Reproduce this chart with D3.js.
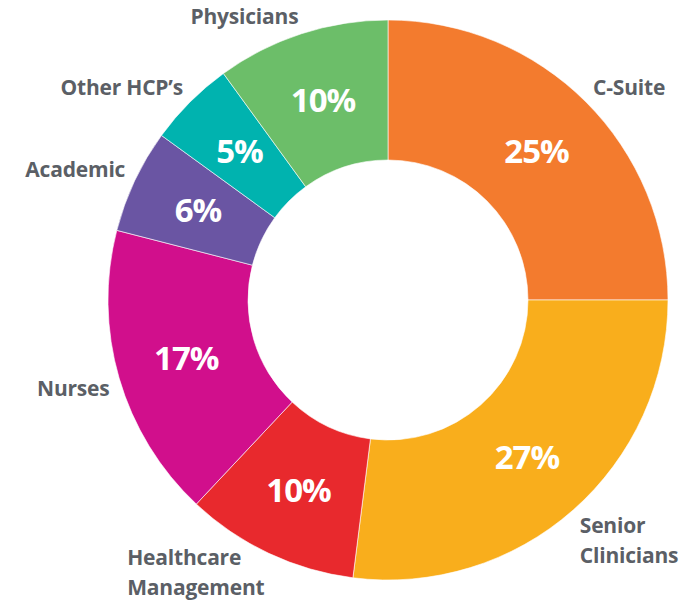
<!DOCTYPE html>
<html>
<head>
<meta charset="utf-8">
<script src="https://cdn.jsdelivr.net/npm/d3@7"></script>
<style>
  body { margin: 0; background: #fff; }
  svg { display: block; }
</style>
</head>
<body>
<svg id="chart" width="687" height="603"></svg>
<script>
// Survey respondents by role (clockwise from 12 o'clock)
const categories = ["C-Suite", "Senior\nClinicians", "Healthcare\nManagement", "Nurses", "Academic", "Other HCP\u2019s", "Physicians"];
const shares = [25, 27, 10, 17, 6, 5, 10];
const sliceColors = ["#F37B2E", "#F9AE1C", "#E8292D", "#D10F8C", "#6A55A3", "#00B3AF", "#6CBE69"];

const width = 687, height = 603;
const cx = 388, cy = 300;
const outerR = 280, innerR = 140;

const svg = d3.select("#chart");
const g = svg.append("g").attr("transform", `translate(${cx},${cy})`);

const pie = d3.pie().sort(null).value(d => d);
const arcs = pie(shares);

const arc = d3.arc().innerRadius(innerR).outerRadius(outerR);
const labelArc = d3.arc().innerRadius(210).outerRadius(210);

// Draw slices
g.selectAll("path.slice")
  .data(arcs)
  .join("path")
  .attr("class", "slice")
  .attr("d", arc)
  .attr("fill", (d, i) => sliceColors[i])
  .attr("stroke", "#fff")
  .attr("stroke-width", 0.6);

// Percent labels inside the ring
g.selectAll("text.pct")
  .data(arcs)
  .join("text")
  .attr("class", "pct")
  .attr("transform", d => `translate(${labelArc.centroid(d)})`)
  .attr("text-anchor", "middle")
  .attr("dy", "0.36em")
  .attr("fill", "#fff")
  .attr("font-family", "'Open Sans', sans-serif")
  .attr("font-weight", 700)
  .attr("font-size", 33)
  .attr("letter-spacing", -1)
  .text(d => d.value + "%");

// Category labels outside the ring: nearest corner of the cap-height box sits on a circle
const labelR = 290;
const fs = 21, lineGap = 30;
const maxBaseline = height - cy - 8; // keep the last line inside the picture
const outer = g.selectAll("text.cat")
  .data(arcs)
  .join("text")
  .attr("class", "cat")
  .attr("fill", "#5B5F66")
  .attr("font-family", "'Open Sans', sans-serif")
  .attr("font-weight", 700)
  .attr("font-size", fs)
  .attr("letter-spacing", -0.2);

outer.each(function(d, i) {
  const t = d3.select(this);
  const lines = categories[i].split("\n");
  lines.forEach((line, k) => {
    t.append("tspan").attr("x", 0).attr("y", k * lineGap).text(line);
  });
  const a = (d.startAngle + d.endAngle) / 2;
  const px = Math.sin(a) * labelR, py = -Math.cos(a) * labelR;
  const b = this.getBBox();
  const top = -0.72 * fs, bottom = (lines.length - 1) * lineGap;
  const tx = Math.sin(a) >= 0 ? px - b.x : px - (b.x + b.width);
  let ty = Math.cos(a) >= 0 ? py - bottom : py - top;
  ty = Math.min(ty, maxBaseline - bottom);
  t.attr("transform", `translate(${tx},${ty})`);
});
</script>
</body>
</html>
